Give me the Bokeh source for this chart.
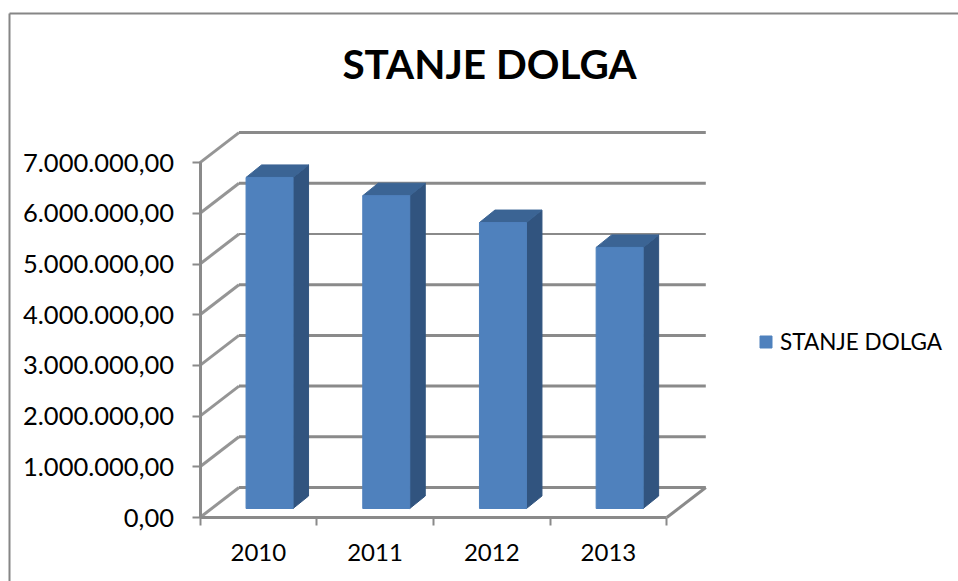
from bokeh.plotting import figure
from bokeh.models import (Range1d, LinearAxis, FixedTicker, Label, Legend, LegendItem, ColumnDataSource)
from bokeh.embed import file_html
from bokeh.resources import INLINE

title_text = "STANJE DOLGA"
series_name = "STANJE DOLGA"
years = ["2010", "2011", "2012", "2013"]
debt = [6530000, 6170000, 5640000, 5150000]
y_ticks = [0, 1000000, 2000000, 3000000, 4000000, 5000000, 6000000, 7000000]
y_labels = ["0,00", "1.000.000,00", "2.000.000,00", "3.000.000,00",
            "4.000.000,00", "5.000.000,00", "6.000.000,00", "7.000.000,00"]

# pixel geometry of the page
PW, PH = 958, 581
PX_CAT = 116.7
PX_M = 50.7
X0, Y0 = 199.5, 517


def dx(px):
    return px / PX_CAT


def dy(px):
    return px / PX_M * 1e6


GRID = "#8a8a8a"
FRONT, SIDE, TOP = "#4f81bd", "#31547f", "#3b6494"
FONT = "Lato"

p = figure(width=PW, height=PH, output_backend="svg", toolbar_location=None,
           x_axis_type=None, y_axis_type=None, min_border=0,
           x_range=Range1d(-X0 / PX_CAT, (PW - X0) / PX_CAT),
           y_range=Range1d(dy(Y0 - PH), dy(Y0)))
p.grid.visible = False
p.outline_line_color = None

# chart frame, running off the page at right and bottom
left, right = p.x_range.start, p.x_range.end
bottom, top = p.y_range.start, p.y_range.end
p.segment([left + dx(9), left + dx(9)], [top - dy(13), top - dy(13)],
          [left + dx(9), right], [bottom, top - dy(13)],
          line_color="#868686", line_width=2)

# walls of the 3D box
n = len(years)
depth_x, depth_y = dx(39), dy(30)
wall_widths = [3, 3, 3, 3, 3, 2, 3, 3]
p.segment([0] * len(y_ticks), y_ticks, [depth_x] * len(y_ticks),
          [v + depth_y for v in y_ticks], line_color=GRID, line_width=3, line_alpha=0.9)
p.segment([depth_x] * len(y_ticks), [v + depth_y for v in y_ticks],
          [n + depth_x] * len(y_ticks), [v + depth_y for v in y_ticks],
          line_color=GRID, line_width=wall_widths)
p.segment([n], [0], [n + depth_x], [depth_y], line_color=GRID, line_width=3)

# bars
centers = [i + 0.596 for i in range(n)]
half = dx(23.5)
base = dy(9)
side_x, side_y = dx(15.5), dy(12.5)
tops = [base + v for v in debt]
p.patches([[c + half, c + half + side_x, c + half + side_x, c + half] for c in centers],
          [[base, base + side_y, t + side_y, t] for t in tops],
          fill_color=SIDE, line_color=SIDE)
p.patches([[c - half, c - half + side_x, c + half + side_x, c + half] for c in centers],
          [[t, t + side_y, t + side_y, t] for t in tops],
          fill_color=TOP, line_color=TOP)
src = ColumnDataSource(dict(x=centers, top=tops, bottom=[base] * n))
bars = p.vbar(x="x", top="top", bottom="bottom", width=2 * half, source=src,
              fill_color=FRONT, line_color=FRONT)

# axes
yaxis = LinearAxis(fixed_location=0, ticker=FixedTicker(ticks=y_ticks), bounds=(0, y_ticks[-1]),
                   major_label_overrides=dict(zip(y_ticks, y_labels)))
yaxis.axis_line_color = GRID
yaxis.axis_line_width = 3
yaxis.major_tick_line_color = GRID
yaxis.major_tick_line_width = 2
yaxis.major_tick_in = 0
yaxis.major_tick_out = 8
yaxis.minor_tick_line_color = None
yaxis.major_label_standoff = 18
yaxis.major_label_text_font = FONT
yaxis.major_label_text_font_size = "25.5px"
yaxis.major_label_text_color = "#000000"
p.add_layout(yaxis, "left")

tick_pos = list(range(n + 1))
xaxis = LinearAxis(fixed_location=0, ticker=FixedTicker(ticks=tick_pos), bounds=(0, n),
                   major_label_overrides={i: "" for i in tick_pos})
xaxis.axis_line_color = GRID
xaxis.axis_line_width = 3
xaxis.major_tick_line_color = GRID
xaxis.major_tick_line_width = 2
xaxis.major_tick_in = 0
xaxis.major_tick_out = 8
xaxis.minor_tick_line_color = None
p.add_layout(xaxis, "below")

label_pos = [i + 0.5 for i in range(n)]
xlabels = LinearAxis(fixed_location=0, ticker=FixedTicker(ticks=label_pos),
                     major_label_overrides=dict(zip(label_pos, years)))
xlabels.axis_line_color = None
xlabels.major_tick_line_color = None
xlabels.minor_tick_line_color = None
xlabels.major_label_standoff = 20
xlabels.major_label_text_font = FONT
xlabels.major_label_text_font_size = "24px"
xlabels.major_label_text_color = "#000000"
p.add_layout(xlabels, "below")

# title
p.add_layout(Label(x=489, y=PH - 63, x_units="screen", y_units="screen",
                   text=title_text, text_font=FONT, text_font_style="bold",
                   text_font_size="40.5px", text_color="#000000",
                   text_align="center", text_baseline="middle"))

# legend
legend = Legend(items=[LegendItem(label=series_name, renderers=[bars])],
                location=(758, PH - 355), orientation="vertical",
                glyph_width=15, glyph_height=15, label_standoff=7,
                label_text_font=FONT, label_text_font_size="22.5px",
                label_text_color="#000000", background_fill_alpha=0,
                border_line_color=None, margin=0, padding=0, spacing=0,
                label_height=15)
p.add_layout(legend, "center")

open("out.html", "w").write(file_html(p, INLINE))
